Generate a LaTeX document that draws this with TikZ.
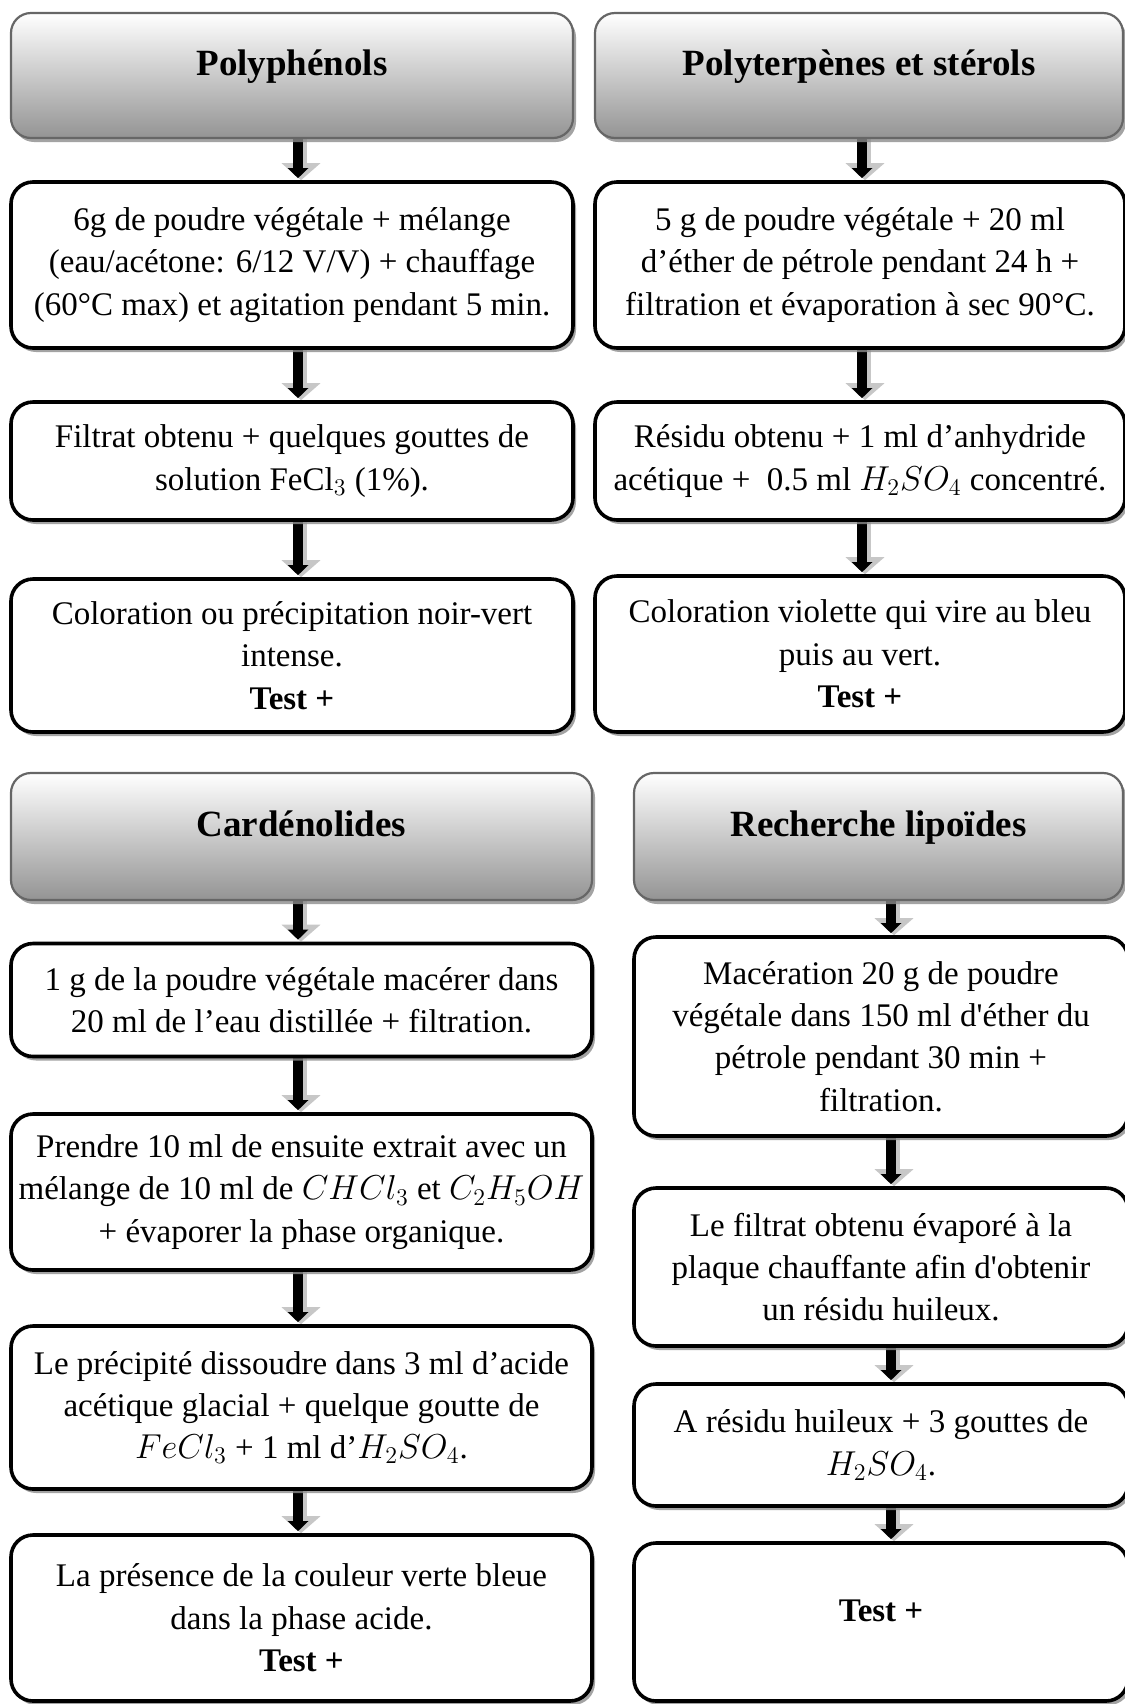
\documentclass[tikz,border=0pt]{standalone}
\usepackage{fontspec}
\setmainfont{Liberation Serif}
\usetikzlibrary{arrows.meta,shadows,backgrounds}
\tikzset{
  hdr/.style={draw=black!60, line width=1.1pt, rounded corners=10pt,
    top color=white, bottom color=black!42,
    drop shadow={shadow xshift=1.5pt, shadow yshift=-2pt, fill=black!45, opacity=.8},
    font=\fontsize{18.5pt}{22pt}\selectfont\bfseries,
    text height=13pt, text depth=13.5pt, inner sep=0pt},
  txt/.style={draw=black, line width=1.8pt, rounded corners=11pt, fill=white,
    drop shadow={shadow xshift=1.5pt, shadow yshift=-2pt, fill=black!45, opacity=.8},
    font=\fontsize{16.5pt}{21.2pt}\selectfont, align=center, inner sep=2pt},
  barrow/.style={draw=black, line width=5pt, -{Triangle[width=10pt,length=5pt]}, shorten >=1pt},
  sarrow/.style={draw=black!22, line width=6pt, -{Triangle[width=19pt,length=8.5pt]}},
}
\begin{document}
\begin{tikzpicture}[x=0.5pt,y=-0.5pt]
\useasboundingbox (0,0) rectangle (1125,1704);
% arrow columns
\coordinate (xA) at (298,0); \coordinate (sA) at (301,0);
\coordinate (xB) at (862,0); \coordinate (sB) at (865,0);
\coordinate (xC) at (298,0); \coordinate (sC) at (301,0);
\coordinate (xD) at (891,0); \coordinate (sD) at (894,0);

% Column A
\node[hdr, minimum width=281pt, minimum height=62.5pt] (A0) at (292,75.5) {Polyphénols};
\node[txt, minimum width=281pt, minimum height=83pt] (A1) at (292,265)
  {6g de poudre végétale + mélange\\(eau/acétone: 6/12 V/V) + chauffage\\(60°C max) et agitation pendant 5 min.};
\node[txt, minimum width=281pt, minimum height=59pt] (A2) at (292,461)
  {Filtrat obtenu + quelques gouttes de\\solution FeCl$_3$ (1\%).};
\node[txt, minimum width=281pt, minimum height=76.5pt] (A3) at (292,655.5)
  {Coloration ou précipitation noir-vert\\intense.\\\textbf{Test +}};

% Column B
\node[hdr, minimum width=264pt, minimum height=62.5pt] (B0) at (859,75.5) {Polyterpènes et stérols};
\node[txt, minimum width=265pt, minimum height=83pt] (B1) at (860,265)
  {5 g de poudre végétale + 20 ml\\d’éther de pétrole pendant 24 h +\\filtration et évaporation à sec 90°C.};
\node[txt, minimum width=265pt, minimum height=59pt] (B2) at (860,461)
  {Résidu obtenu + 1 ml d’anhydride\\acétique +~ 0.5 ml $H_2SO_4$ concentré.};
\node[txt, minimum width=265pt, minimum height=78pt] (B3) at (860,654)
  {Coloration violette qui vire au bleu\\puis au vert.\\\textbf{Test +}};

% Column C
\node[hdr, minimum width=290.5pt, minimum height=63.5pt] (C0) at (301.5,836.5) {Cardénolides};
\node[txt, minimum width=290.5pt, minimum height=56.5pt] (C1) at (301.5,1000)
  {1 g de la poudre végétale macérer dans\\20 ml de l’eau distillée + filtration.};
\node[txt, minimum width=290.5pt, minimum height=78pt] (C2) at (301.5,1192)
  {Prendre 10 ml de ensuite extrait avec un\\mélange de 10 ml de $CHCl_3$ et $C_2H_5OH$\\+ évaporer la phase organique.};
\node[txt, minimum width=290.5pt, minimum height=81.5pt] (C3) at (301.5,1407.5)
  {Le précipité dissoudre dans 3 ml d’acide\\acétique glacial + quelque goutte de\\$FeCl_3$ + 1 ml d’$H_2SO_4$.};
\node[txt, minimum width=290.5pt, minimum height=83pt] (C4) at (301.5,1618)
  {La présence de la couleur verte bleue\\dans la phase acide.\\\textbf{Test +}};

% Column D
\node[hdr, minimum width=244.5pt, minimum height=63.5pt] (D0) at (878.5,836.5) {Recherche lipoïdes};
\node[txt, minimum width=247pt, minimum height=99.5pt] (D1) at (881,1036.5)
  {Macération 20 g de poudre\\végétale dans 150 ml d\textquotesingle éther du\\pétrole pendant 30 min +\\filtration.};
\node[txt, minimum width=247pt, minimum height=79pt] (D2) at (881,1267)
  {Le filtrat obtenu évaporé à la\\plaque chauffante afin d\textquotesingle obtenir\\un résidu huileux.};
\node[txt, minimum width=247pt, minimum height=61pt] (D3) at (881,1445)
  {A résidu huileux + 3 gouttes de\\$H_2SO_4$.};
\node[txt, minimum width=247pt, minimum height=79pt, text height=12pt, text depth=13pt] (D4) at (881,1622)
  {\textbf{Test +}};

% connectors
\begin{scope}[on background layer]
\foreach \fa/\fb/\fc in {A0/A1/A, A1/A2/A, A2/A3/A,
                         B0/B1/B, B1/B2/B, B2/B3/B,
                         C0/C1/C, C1/C2/C, C2/C3/C, C3/C4/C,
                         D0/D1/D, D1/D2/D, D2/D3/D, D3/D4/D}{
  \draw[sarrow] (\fa.south -| s\fc) -- (\fb.north -| s\fc);
  \draw[barrow] (\fa.south -| x\fc) -- (\fb.north -| x\fc);
}
\end{scope}
\end{tikzpicture}
\end{document}
